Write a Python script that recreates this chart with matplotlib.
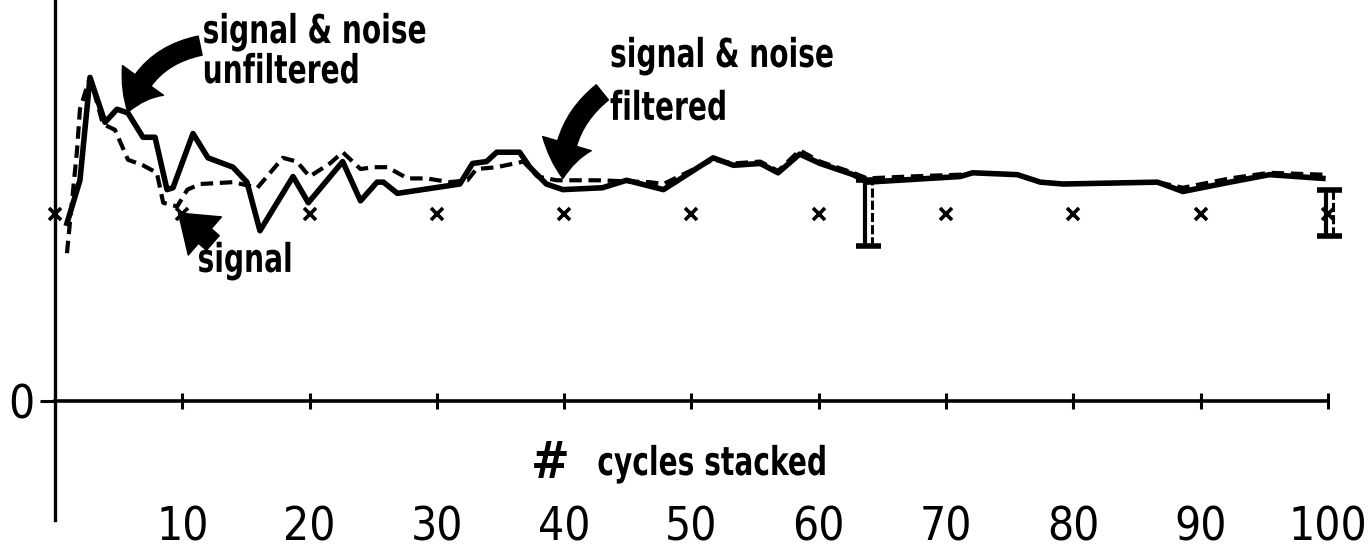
import matplotlib.pyplot as plt
from matplotlib.patheffects import AbstractPathEffect
from matplotlib.transforms import Affine2D

plt.rcParams['font.family'] = ['DejaVu Sans']
plt.rcParams['font.stretch'] = 'condensed'

# signal & noise, unfiltered (solid)
unf_x = [0.94, 1.96, 2.75, 3.93, 4.87, 5.73, 6.91, 7.86, 8.80, 9.27,
         10.84, 12.02, 13.98, 15.08, 16.1, 18.7, 19.9, 22.6, 24.0, 25.3,
         25.8, 26.9, 31.8, 32.8, 33.9, 34.7, 36.5, 37.3, 38.6, 39.9,
         43.0, 44.9, 47.8, 51.7, 53.3, 55.4, 56.8, 58.5, 60.1, 62.7,
         63.8, 71.1, 72.1, 75.6, 77.4, 79.2, 86.6, 88.6, 92.3, 95.4, 99.6]
unf_y = [0.95, 1.18, 1.73, 1.49, 1.56, 1.54, 1.41, 1.41, 1.13, 1.14,
         1.43, 1.30, 1.25, 1.17, 0.91, 1.20, 1.06, 1.28, 1.07, 1.17,
         1.17, 1.11, 1.16, 1.27, 1.28, 1.33, 1.33, 1.25, 1.16, 1.13,
         1.14, 1.18, 1.13, 1.30, 1.26, 1.27, 1.22, 1.32, 1.27, 1.21,
         1.17, 1.20, 1.22, 1.21, 1.17, 1.16, 1.17, 1.12, 1.17, 1.21, 1.19]

# signal & noise, filtered (dashed)
fil_x = [0.94, 1.34, 1.73, 1.96, 2.75, 3.77, 4.71, 5.73, 6.91, 8.0,
         8.5, 9.6, 10.4, 11.4, 14.0, 15.9, 17.9, 19.0, 20.0, 21.6,
         22.6, 24.0, 25.0, 26.1, 27.7, 29.2, 31.0, 32.4, 33.1, 34.7,
         36.8, 37.9, 39.4, 42.6, 46.7, 47.8, 51.7, 53.3, 55.4, 56.8,
         58.5, 60.1, 62.7, 63.8, 67.0, 71.1, 72.1, 75.6, 77.4, 79.2,
         86.6, 88.6, 92.3, 95.4, 99.6]
fil_y = [0.79, 1.07, 1.34, 1.56, 1.73, 1.48, 1.45, 1.29, 1.26, 1.22,
         1.06, 1.04, 1.13, 1.16, 1.17, 1.14, 1.30, 1.28, 1.20, 1.27,
         1.33, 1.24, 1.25, 1.25, 1.19, 1.19, 1.17, 1.18, 1.24, 1.25,
         1.28, 1.20, 1.18, 1.18, 1.17, 1.16, 1.29, 1.27, 1.28, 1.23,
         1.34, 1.28, 1.22, 1.19, 1.20, 1.21, 1.22, 1.21, 1.17, 1.16,
         1.17, 1.14, 1.19, 1.22, 1.21]

# true signal level
sig_x = [0, 10, 20, 30, 40, 50, 60, 70, 80, 90, 100]
sig_y = [1.0] * len(sig_x)

# error bars (double: solid + dashed)
err_x = [63.9, 100.1]
err_lo = [0.83, 0.88]
err_hi = [1.18, 1.13]

x_ticks = [10, 20, 30, 40, 50, 60, 70, 80, 90, 100]
x_labels = ['10', '20', '30', '40', '50', '60', '70', '80', '90', '100']


class Stretch(AbstractPathEffect):
    # make the lettering taller than the font draws it
    def __init__(self, sy):
        super().__init__()
        self.sy = sy

    def draw_path(self, renderer, gc, tpath, affine, rgbFace=None):
        renderer.draw_path(gc, tpath, Affine2D().scale(1, self.sy) + affine, rgbFace)


fig = plt.figure(figsize=(13.7, 5.5), dpi=100)
ax = fig.add_axes([0, 0, 1, 1])
ax.set_xlim(-4.32, 103.3)
ax.set_ylim(-0.797, 2.144)

ax.plot(unf_x, unf_y, color='black', lw=4, solid_joinstyle='round')
ax.plot(fil_x, fil_y, color='black', lw=3.0, linestyle=(0, (3, 1.6)))
ax.plot(sig_x, sig_y, linestyle='none', marker='x', ms=8, mew=2.6, color='black')

for x, lo, hi in zip(err_x, err_lo, err_hi):
    ax.vlines(x - 0.25, lo, hi, color='black', lw=3)
    ax.vlines(x + 0.3, lo, hi, color='black', lw=2.2, linestyles=(0, (3, 1)))
    ax.hlines([lo, hi], x - 1.0, x + 1.0, color='black', lw=4)

# axes
for s in ['top', 'right']:
    ax.spines[s].set_visible(False)
ax.spines['left'].set_position(('data', 0))
ax.spines['left'].set_bounds(-0.636, 2.144)
ax.spines['bottom'].set_position(('data', 0))
ax.spines['bottom'].set_bounds(0, 100)
ax.spines['left'].set_linewidth(2.4)
ax.spines['bottom'].set_linewidth(2.6)

ax.set_xticks(x_ticks)
ax.set_xticklabels(x_labels)
ax.tick_params(axis='x', direction='inout', length=12, width=2.2, pad=69, labelsize=33)
ax.set_yticks([0])
ax.set_yticklabels(['0'])
ax.tick_params(axis='y', direction='out', length=11, width=2.2, pad=4, labelsize=33)

tall = [Stretch(1.27)]
lab = dict(fontsize=22.5, fontweight='bold', color='black', va='baseline',
           path_effects=tall)
ax.text(11.6, 1.914, 'signal & noise', **lab)
ax.text(11.6, 1.70, 'unfiltered', **lab)
ax.text(43.6, 1.786, 'signal & noise', **lab)
ax.text(43.6, 1.503, 'filtered', **lab)
ax.text(11.2, 0.69, 'signal', **lab)
ax.text(37.4, -0.41, '#', fontsize=37, fontweight='bold', va='baseline')
ax.text(42.6, -0.396, 'cycles stacked', **lab)

arrow = dict(arrowstyle='simple,head_length=0.9,head_width=1.3,tail_width=0.5',
             color='black', mutation_scale=28, shrinkA=0, shrinkB=0)
ax.annotate('', xy=(5.73, 1.545), xytext=(11.4, 1.90),
            arrowprops=dict(connectionstyle='arc3,rad=0.3', **arrow))
ax.annotate('', xy=(39.9, 1.19), xytext=(43.0, 1.65),
            arrowprops=dict(connectionstyle='arc3,rad=0.25', **arrow))
ax.annotate('', xy=(9.7, 1.005), xytext=(12.4, 0.845),
            arrowprops=dict(connectionstyle='arc3,rad=0', **arrow))

fig.savefig('out.png', dpi=100)
